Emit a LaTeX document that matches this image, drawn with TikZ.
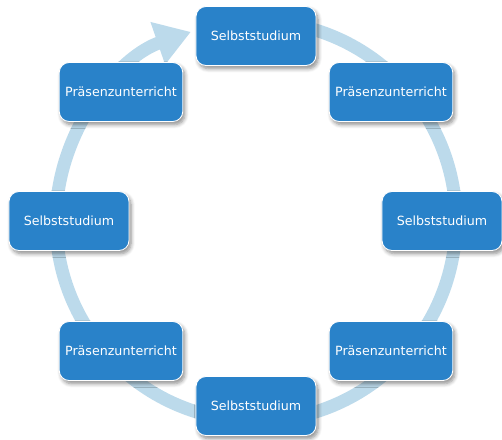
\documentclass[tikz,border=0pt]{standalone}
\usepackage{fontspec}
\setmainfont{DejaVu Sans}
\usetikzlibrary{arrows.meta,shadows.blur}
\definecolor{boxblue}{RGB}{41,130,201}
\definecolor{ringblue}{RGB}{188,218,235}

\begin{document}
\begin{tikzpicture}[stage/.style={rectangle,rounded corners=2mm,draw=white,line width=0.5pt,fill=boxblue,text=white,
      minimum width=2.4cm,minimum height=1.18cm,font=\fontsize{7.2}{9}\selectfont,
      blur shadow={shadow xshift=1.2pt,shadow yshift=-1.8pt,shadow blur steps=6,shadow opacity=45}}]
  \useasboundingbox (-5.12,-4.38) rectangle (4.92,4.42);
  % ring with arrow
  \draw [ringblue,line width=0.26cm,-{Triangle[width=0.85cm,length=0.7cm]}]
    (80:4) arc [start angle=80,end angle=-251,radius=4];
  % stages
  \foreach \x/\y/\n/\t in {0/3.70/s1/Selbststudium, 2.70/2.58/p1/Präsenzunterricht, 3.72/0/s2/Selbststudium,
      2.70/-2.60/p2/Präsenzunterricht, 0/-3.70/s3/Selbststudium, -2.70/-2.60/p3/Präsenzunterricht,
      -3.74/0/s4/Selbststudium, -2.70/2.58/p4/Präsenzunterricht}
    \node [stage] (\n) at (\x,\y) {\t};
\end{tikzpicture}
\end{document}
